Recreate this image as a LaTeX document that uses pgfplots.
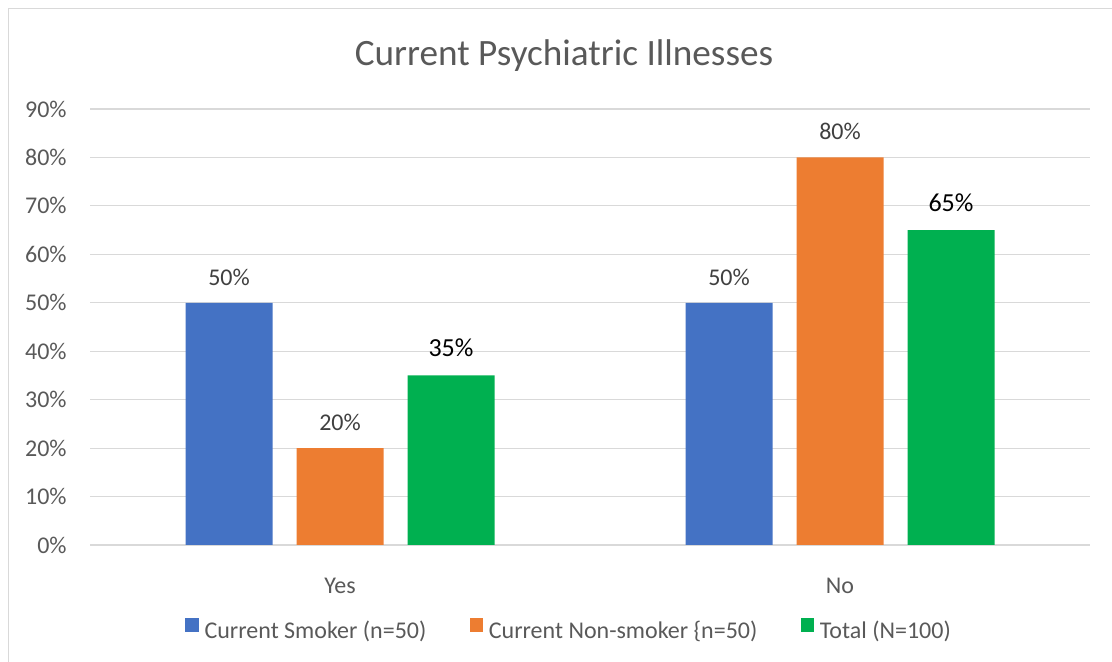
\documentclass[border=0pt]{standalone}
\usepackage{fontspec}
\setmainfont{Carlito}
\usepackage{pgfplots}
\usepackage{pgfplotstable}
\pgfplotsset{compat=1.18}

\definecolor{smoker}{HTML}{4472C4}
\definecolor{nonsmoker}{HTML}{ED7D31}
\definecolor{total}{HTML}{00B050}
\definecolor{gridgray}{HTML}{D9D9D9}
\definecolor{textgray}{HTML}{595959}
\definecolor{labelgray}{HTML}{404040}

% share of participants (%) per answer: 0 = Yes, 1 = No
\pgfplotstableread{
cat smoker nonsmoker total
0   50     20        35
1   50     80        65
}\illness

\begin{document}
\begin{tikzpicture}
\useasboundingbox (0,0) rectangle (556pt,331pt);
% chart frame
\draw[gridgray, line width=0.6pt] (4.15pt,-5pt) -- (4.15pt,326.65pt) -- (560pt,326.65pt);
% title
\node[anchor=base, inner sep=0pt, text=textgray, font=\fontsize{18.6}{21}\selectfont]
  at (282pt,298.15pt) {Current Psychiatric Illnesses};

\begin{axis}[
  at={(45pt,58.5pt)}, anchor=south west,
  scale only axis, width=500pt, height=218pt,
  xmin=-0.5, xmax=1.5, ymin=0, ymax=90,
  ybar, bar width=43.5pt,
  axis line style={draw=none},
  major tick style={draw=none},
  ymajorgrids, grid style={gridgray, line width=0.6pt},
  ytick={0,10,...,90},
  yticklabel={\pgfmathprintnumber{\tick}\%},
  xtick={0,1}, xticklabels={Yes,No},
  /pgf/number format/assume math mode=true,
  tick label style={text=textgray, font=\fontsize{12}{14}\selectfont, inner sep=0pt},
  yticklabel style={anchor=east, xshift=-11.5pt},
  xticklabel style={anchor=base, yshift=-20pt},
  nodes near coords={\pgfmathprintnumber\pgfplotspointmeta\%},
  every node near coord/.append style={anchor=base, inner sep=0pt, yshift=8.8pt,
    text=labelgray, font=\fontsize{12}{14}\selectfont},
  legend columns=3,
  legend style={draw=none, fill=none, inner sep=0pt,
    at={(0.095,-0.195)}, anchor=west,
    font=\fontsize{12}{14}\selectfont, text=textgray,
    nodes={inner sep=0pt},
    /tikz/every odd column/.append style={column sep=2.85pt},
    /tikz/every even column/.append style={column sep=21.65pt}},
  legend image code/.code={\fill[#1] (0pt,0pt) rectangle (6.75pt,6.75pt);},
]
\addplot[fill=smoker, draw=none, bar shift=-55.5pt] table[x=cat, y=smoker] {\illness};
\addplot[fill=nonsmoker, draw=none, bar shift=0pt] table[x=cat, y=nonsmoker] {\illness};
\addplot[fill=total, draw=none, bar shift=55.5pt,
  every node near coord/.append style={text=black, yshift=0.7pt,
    font=\fontsize{13}{15}\selectfont}] table[x=cat, y=total] {\illness};
\legend{Current Smoker (n=50), Current Non-smoker \{n=50), Total (N=100)}
\end{axis}
\end{tikzpicture}
\end{document}
